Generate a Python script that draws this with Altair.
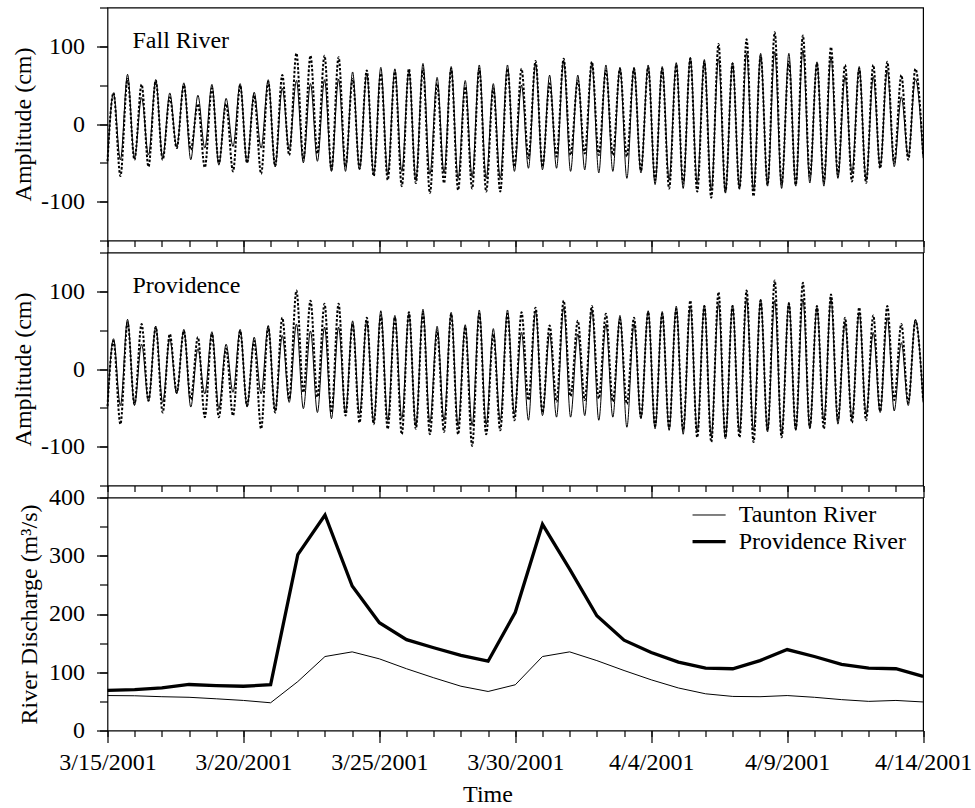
import altair as alt
import pandas as pd

FONT = "Liberation Serif"
FS = 24

# ---- tidal record: times (hours after 3/15/2001 00:00) of high and low waters
high_hours = [5.3, 17.7, 30.1, 42.6, 55.0, 67.4, 79.8, 92.2, 104.7, 117.1,
              129.5, 141.9, 154.3, 166.8, 179.2, 191.6, 204.0, 216.4, 228.9, 241.3,
              253.7, 266.1, 278.5, 291.0, 303.4, 315.8, 328.2, 340.6, 353.1, 365.5,
              377.9, 390.3, 402.7, 415.2, 427.6, 440.0, 452.4, 464.8, 477.3, 489.7,
              502.1, 514.5, 526.9, 539.4, 551.8, 564.2, 576.6, 589.0, 601.5, 613.9,
              626.3, 638.7, 651.1, 663.6, 676.0, 688.4, 700.8, 713.2]
low_hours = [11.4, 23.8, 36.2, 48.7, 61.1, 73.5, 85.9, 98.3, 110.8, 123.2,
             135.6, 148.0, 160.4, 172.9, 185.3, 197.7, 210.1, 222.5, 235.0, 247.4,
             259.8, 272.2, 284.6, 297.1, 309.5, 321.9, 334.3, 346.7, 359.2, 371.6,
             384.0, 396.4, 408.8, 421.3, 433.7, 446.1, 458.5, 470.9, 483.4, 495.8,
             508.2, 520.6, 533.0, 545.5, 557.9, 570.3, 582.7, 595.1, 607.6, 620.0,
             632.4, 644.8, 657.2, 669.7, 682.1, 694.5, 706.9]
edge_hours = [0, 720]

# Fall River (solid / dotted)
fall_solid_high = [40, 64, 34, 57, 40, 53, 37, 51, 33, 52, 41, 57, 46, 56, 52, 57, 58, 67, 65, 73,
                   71, 69, 78, 60, 74, 56, 76, 52, 76, 50, 78, 63, 82, 63, 79, 76, 73, 73, 76, 74,
                   79, 86, 83, 84, 79, 91, 91, 93, 91, 95, 80, 86, 61, 74, 61, 69, 35, 58]
fall_solid_low = [-46, -44, -40, -44, -30, -46, -31, -53, -29, -50, -31, -55, -33, -50, -48, -61, -61, -59, -65, -65,
                  -61, -72, -65, -63, -70, -68, -70, -70, -61, -57, -59, -57, -61, -59, -63, -61, -70, -63, -78, -72,
                  -83, -76, -85, -89, -83, -85, -80, -83, -80, -76, -80, -70, -63, -72, -55, -55, -42]
fall_solid_edge = [-48, -44]
fall_dot_high = [40, 58, 51, 56, 34, 50, 26, 46, 26, 50, 37, 54, 63, 91, 88, 88, 86, 58, 69, 65,
                 67, 71, 71, 52, 71, 48, 71, 46, 71, 71, 81, 52, 84, 56, 80, 69, 71, 71, 73, 71,
                 76, 84, 80, 103, 78, 109, 88, 118, 80, 114, 78, 99, 76, 71, 76, 80, 63, 71]
fall_dot_low = [-67, -46, -55, -46, -31, -33, -56, -50, -61, -50, -64, -54, -40, -46, -38, -59, -55, -57, -67, -72,
                -80, -76, -89, -76, -85, -83, -87, -87, -55, -44, -55, -42, -40, -38, -40, -40, -42, -60, -72, -83,
                -76, -87, -95, -87, -83, -93, -78, -78, -78, -68, -74, -65, -74, -76, -57, -50, -46]
fall_dot_edge = [-48, -40]

# Providence (solid / dotted)
prov_solid_high = [39, 64, 32, 55, 39, 51, 26, 48, 32, 51, 41, 56, 43, 58, 49, 54, 54, 62, 62, 75,
                   69, 71, 77, 55, 73, 57, 76, 52, 76, 47, 75, 45, 79, 45, 77, 58, 69, 58, 75, 74,
                   81, 81, 82, 84, 82, 90, 90, 88, 86, 90, 79, 90, 60, 73, 47, 66, 34, 64]
prov_solid_low = [-47, -47, -41, -43, -32, -49, -32, -51, -30, -49, -32, -54, -43, -51, -56, -64, -56, -58, -69, -66,
                  -64, -73, -69, -66, -73, -73, -71, -66, -58, -66, -60, -62, -62, -60, -66, -62, -75, -64, -77, -79,
                  -84, -81, -86, -90, -81, -79, -81, -84, -79, -77, -66, -71, -64, -58, -56, -54, -47]
prov_solid_edge = [-48, -43]
prov_dot_high = [36, 60, 58, 54, 45, 49, 41, 45, 26, 49, 36, 54, 66, 101, 88, 84, 84, 58, 66, 69,
                 66, 73, 71, 49, 71, 54, 71, 45, 71, 73, 79, 56, 88, 62, 81, 71, 64, 66, 73, 71,
                 77, 88, 81, 99, 81, 101, 88, 114, 84, 111, 81, 96, 66, 79, 69, 81, 58, 62]
prov_dot_low = [-71, -45, -41, -56, -30, -39, -62, -62, -60, -47, -77, -56, -39, -30, -36, -56, -60, -69, -71, -77,
                -84, -77, -84, -81, -84, -99, -84, -79, -66, -40, -56, -42, -35, -40, -38, -42, -45, -62, -73, -75,
                -79, -88, -94, -88, -88, -94, -79, -88, -77, -75, -77, -66, -69, -66, -54, -40, -43]
prov_dot_edge = [-48, -40]

# ---- river discharge, daily
dis_dates = ["2001-03-15", "2001-03-16", "2001-03-17", "2001-03-18", "2001-03-19", "2001-03-20",
             "2001-03-21", "2001-03-22", "2001-03-23", "2001-03-24", "2001-03-25", "2001-03-26",
             "2001-03-27", "2001-03-28", "2001-03-29", "2001-03-30", "2001-03-31", "2001-04-01",
             "2001-04-02", "2001-04-03", "2001-04-04", "2001-04-05", "2001-04-06", "2001-04-07",
             "2001-04-08", "2001-04-09", "2001-04-10", "2001-04-11", "2001-04-12", "2001-04-13",
             "2001-04-14"]
taunton = [60, 59.6, 58, 57, 54.4, 51.6, 47.6, 84, 127, 135, 123, 106, 90.5, 76, 67,
           78.5, 127, 135, 120, 103, 87, 73, 63, 58.5, 58, 60, 57, 53, 50, 51.6, 49]
providence = [69, 70, 73, 79, 77, 76, 78.5, 302, 370, 248, 185, 156, 142, 129, 119,
              203, 354, 277, 197, 155, 134, 117.5, 107, 106, 120, 139, 127, 113.5, 107, 106, 93]

series_names = ["Taunton River", "Providence River"]

X_DAY_TICKS = list(range(0, 721, 24))
X_MAJOR_TICKS = list(range(0, 721, 120))
DATE_EXPR = "timeFormat(datetime(2001, 2, 15 + datum.value / 24), '%-m/%-d/%Y')"
W, H = 815.6, 233


def tide_frame(high, low, edge):
    hrs = list(edge_hours) + list(high_hours) + list(low_hours)
    vals = list(edge) + list(high) + list(low)
    df = pd.DataFrame({"hours": hrs, "value": vals})
    return df.sort_values("hours").reset_index(drop=True)


def x_minor():
    return alt.X("hours:Q", scale=alt.Scale(domain=[0, 720], nice=False, zero=False),
                 axis=alt.Axis(values=X_DAY_TICKS, tickSize=6, labels=False, title=None,
                               domain=False, grid=False, orient="bottom", tickWidth=1.2))


def x_major(show_labels):
    kw = dict(values=X_MAJOR_TICKS, tickSize=12, domain=False, grid=False,
              orient="bottom", tickWidth=1.2)
    if show_labels:
        kw.update(labels=True, labelExpr=DATE_EXPR, labelPadding=27.5, labelBaseline="alphabetic",
                  labelAlign="center", title="Time", titleX=380, titleY=71,
                  titleBaseline="alphabetic", labelFlush=False)
    else:
        kw.update(labels=False, title=None)
    return alt.X("hours:Q", scale=alt.Scale(domain=[0, 720], nice=False, zero=False),
                 axis=alt.Axis(**kw))


def tide_panel(solid_df, dot_df, name):
    yscale = alt.Scale(domain=[-150, 150], nice=False, zero=False)
    solid = alt.Chart(solid_df).mark_line(
        color="black", strokeWidth=1, interpolate="monotone"
    ).encode(
        x=x_minor(),
        y=alt.Y("value:Q", scale=yscale,
                axis=alt.Axis(values=list(range(-150, 151, 50)), tickSize=8, labels=False,
                              title=None, domain=False, grid=False, orient="left", tickWidth=1.2)),
    )
    dotted = alt.Chart(dot_df).mark_line(
        color="black", strokeWidth=2, strokeDash=[2.5, 1.8], interpolate="monotone"
    ).encode(
        x=x_major(False),
        y=alt.Y("value:Q", scale=yscale,
                axis=alt.Axis(values=[-100, 0, 100], tickSize=11, labelPadding=12,
                              labelExpr="datum.value + ''", title="Amplitude (cm)",
                              titleX=-84.2, titleBaseline="middle", domain=False, grid=False,
                              orient="left", tickWidth=1.2)),
    )
    label = alt.Chart(pd.DataFrame({"t": [name]})).mark_text(
        align="left", baseline="alphabetic", font=FONT, fontSize=FS, color="black"
    ).encode(x=alt.value(25), y=alt.value(40.5), text="t:N")
    return alt.layer(solid, dotted, label).resolve_axis(x="independent", y="independent").properties(
        width=W, height=H)


fall_solid = tide_frame(fall_solid_high, fall_solid_low, fall_solid_edge)
fall_dot = tide_frame(fall_dot_high, fall_dot_low, fall_dot_edge)
prov_solid = tide_frame(prov_solid_high, prov_solid_low, prov_solid_edge)
prov_dot = tide_frame(prov_dot_high, prov_dot_low, prov_dot_edge)

p1 = tide_panel(fall_solid, fall_dot, "Fall River")
p2 = tide_panel(prov_solid, prov_dot, "Providence")

# discharge panel
start = pd.Timestamp("2001-03-15")
dis_hours = [(pd.Timestamp(d) - start) / pd.Timedelta(hours=1) for d in dis_dates]
dis_df = pd.concat([
    pd.DataFrame({"hours": dis_hours, "q": taunton, "river": series_names[0]}),
    pd.DataFrame({"hours": dis_hours, "q": providence, "river": series_names[1]}),
])

yq = alt.Scale(domain=[0, 400], nice=False)
sw = alt.StrokeWidth("river:N",
                     scale=alt.Scale(domain=series_names, range=[1, 3.3]),
                     legend=alt.Legend(title=None, orient="none", legendX=589.6, legendY=5.5,
                                       symbolType="M-1.6,0H1.6", symbolSize=428,
                                       symbolStrokeColor="black", symbolFillColor="transparent",
                                       labelFont=FONT, labelFontSize=FS, labelColor="black",
                                       labelOffset=17.6, rowPadding=2.7, padding=0,
                                       labelLimit=400))

taunton_line = alt.Chart(dis_df).transform_filter(
    alt.datum.river == series_names[0]
).mark_line(color="black").encode(
    x=x_minor(),
    y=alt.Y("q:Q", scale=yq,
            axis=alt.Axis(values=list(range(0, 401, 50)), tickSize=8, labels=False, title=None,
                          domain=False, grid=False, orient="left", tickWidth=1.2)),
    strokeWidth=sw,
)
prov_line = alt.Chart(dis_df).transform_filter(
    alt.datum.river == series_names[1]
).mark_line(color="black", strokeJoin="miter").encode(
    x=x_major(True),
    y=alt.Y("q:Q", scale=yq,
            axis=alt.Axis(values=[0, 100, 200, 300, 400], tickSize=11, labelPadding=12,
                          title="River Discharge (m³/s)", titleX=-77.7, titleBaseline="middle",
                          domain=False, grid=False, orient="left", tickWidth=1.2)),
    strokeWidth=sw,
)
p3 = alt.layer(taunton_line, prov_line).resolve_axis(x="independent", y="independent").properties(
    width=W, height=H)

chart = alt.vconcat(p1, p2, p3, spacing=12, bounds="flush").resolve_legend(
    strokeWidth="independent"
).properties(
    padding={"left": 10.5, "top": 5.5, "right": 0, "bottom": 0}
).configure_axis(
    labelFont=FONT, labelFontSize=FS, labelColor="black",
    titleFont=FONT, titleFontSize=FS, titleFontWeight="normal", titleColor="black",
    tickColor="black",
).configure_view(
    stroke="black", strokeWidth=1.2
).configure_line(color="black")

chart.save("out.html", embed_options={"renderer": "svg", "actions": False})
